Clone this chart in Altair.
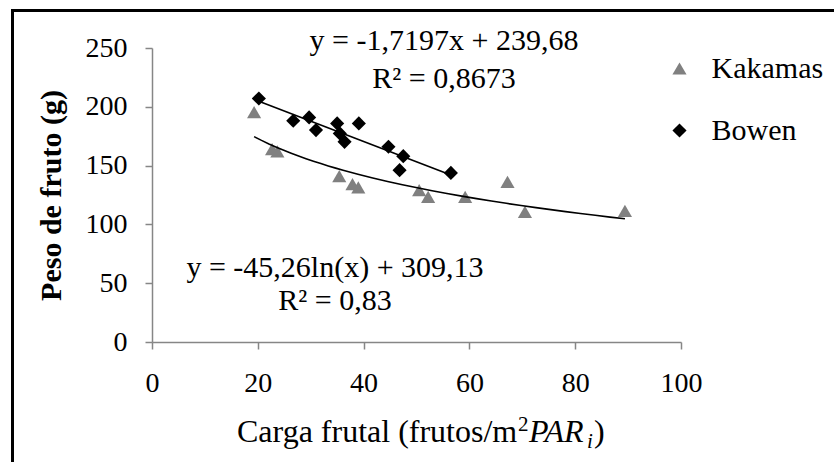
import altair as alt
import pandas as pd

# ---- data ----
kak_x = [19.3, 22.7, 23.7, 35.4, 37.9, 39.0, 50.5, 52.2, 59.2, 67.2, 70.5, 89.4]
kak_y = [195.5, 164.0, 162.0, 141.0, 134.2, 131.4, 129.1, 123.4, 123.4, 136.2, 110.6, 111.5]
bow_x = [20.2, 26.7, 29.7, 31.0, 35.0, 35.5, 36.4, 39.1, 44.7, 47.5, 46.8, 56.5]
bow_y = [207.1, 188.1, 191.0, 180.2, 185.9, 177.4, 170.2, 185.9, 166.0, 158.0, 146.1, 143.8]

series_names = ["Kakamas", "Bowen"]
series_colors = ["#808080", "#000000"]
series_shapes = ["triangle-up", "diamond"]

x_ticks = [0, 20, 40, 60, 80, 100]
y_ticks = [0, 50, 100, 150, 200, 250]

eq_top = ["y = -1,7197x + 239,68", "R² = 0,8673"]
eq_bottom = ["y = -45,26ln(x) + 309,13", "R² = 0,83"]
x_title_parts = ["Carga frutal (frutos/m", "2", "PAR", "i", ")"]
y_title = "Peso de fruto (g)"

df = pd.DataFrame({
    "carga": kak_x + bow_x,
    "peso": kak_y + bow_y,
    "variedad": [series_names[0]] * len(kak_x) + [series_names[1]] * len(bow_x),
})

FONT = "Liberation Serif"
W, H = 529, 294
L, T = 152, 48
AXC = "#868686"

x_enc = alt.X(
    "carga:Q",
    scale=alt.Scale(domain=[0, 100], nice=False, zero=True),
    axis=alt.Axis(values=x_ticks, title=None, grid=False, tickSize=7,
                  labelPadding=20, labelFlush=False, labelFont=FONT,
                  labelFontSize=28, labelColor="black"),
)
y_enc = alt.Y(
    "peso:Q",
    scale=alt.Scale(domain=[0, 250], nice=False, zero=True),
    axis=alt.Axis(values=y_ticks, grid=False, tickSize=7, labelPadding=18,
                  labelFont=FONT, labelFontSize=28, labelColor="black",
                  title=y_title, titleFont=FONT, titleFontSize=30,
                  titleFontWeight="bold", titleAngle=270, titleX=-92,
                  titleY=147, titleBaseline="alphabetic", titleAlign="center",
                  titleColor="black", labelFlush=False),
)

points = alt.Chart(df).mark_point(filled=True, size=200, opacity=1).encode(
    x=x_enc,
    y=y_enc,
    color=alt.Color("variedad:N", scale=alt.Scale(domain=series_names, range=series_colors),
                    legend=alt.Legend(title=None, orient="none", legendX=512.5, legendY=5.5,
                                      labelFont=FONT, labelFontSize=30, labelColor="black",
                                      symbolSize=200, rowPadding=32, labelOffset=17,
                                      padding=0, symbolStrokeWidth=0)),
    shape=alt.Shape("variedad:N", scale=alt.Scale(domain=series_names, range=series_shapes)),
)

lin = alt.Chart(df).transform_filter(alt.datum.variedad == "Bowen").transform_regression(
    "carga", "peso", method="linear"
).mark_line(color="black", strokeWidth=1.6).encode(x=x_enc, y=y_enc)

logc = alt.Chart(df).transform_filter(alt.datum.variedad == "Kakamas").transform_regression(
    "carga", "peso", method="log"
).mark_line(color="black", strokeWidth=1.6).encode(x=x_enc, y=y_enc)

one = pd.DataFrame({"k": [0]})


def txt(s, px, py, size=30, align="center", style="normal"):
    return alt.Chart(one).mark_text(
        text=s, font=FONT, fontSize=size, align=align, baseline="alphabetic",
        color="black", fontStyle=style
    ).encode(x=alt.value(px), y=alt.value(py))


texts = [
    txt(eq_top[0], 292, 2),
    txt(eq_top[1], 292, 40),
    txt(eq_bottom[0], 183, 229),
    txt(eq_bottom[1], 183, 262),
    txt(x_title_parts[0], 85, 394, 32, "left"),
    txt(x_title_parts[1], 366, 383, 21, "left"),
    txt(x_title_parts[2], 377, 394, 32, "left", "italic"),
    txt(x_title_parts[3], 435, 400, 21, "left", "italic"),
    txt(x_title_parts[4], 442, 394, 32, "left"),
]

frame_left = alt.Chart(one).mark_rule(color="black", strokeWidth=3).encode(
    x=alt.value(12.5 - L), y=alt.value(9 - T), y2=alt.value(480))
frame_top = alt.Chart(one).mark_rule(color="black", strokeWidth=3).encode(
    x=alt.value(11 - L), x2=alt.value(900), y=alt.value(10.5 - T))

chart = alt.layer(points, lin, logc, *texts, frame_left, frame_top).properties(
    width=W, height=H,
    autosize=alt.AutoSizeParams(type="none"),
    padding={"left": L, "top": T, "right": 834 - L - W, "bottom": 462 - T - H},
    background="white",
).configure_view(stroke=None).configure_axis(
    domainColor=AXC, tickColor=AXC, domainWidth=1.5, tickWidth=1.5,
)

chart.save("out.html", embed_options={"renderer": "svg", "actions": False})
